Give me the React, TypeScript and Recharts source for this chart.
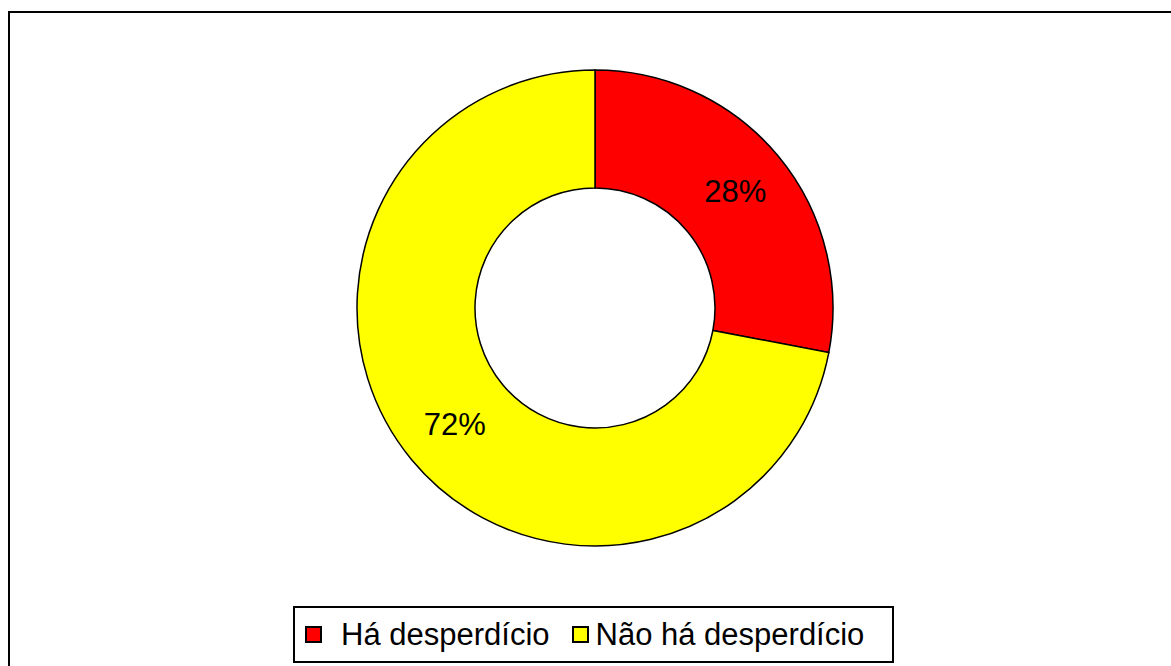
import { PieChart, Pie, Cell, Legend } from 'recharts';

// survey answers (percent)
const categories = ['Há desperdício', 'Não há desperdício'];
const shares = [28, 72];
const colors = ['#FF0000', '#FFFF00'];

const data = categories.map((name, i) => ({ name, value: shares[i] }));

const FONT = "Arial, 'Liberation Sans', sans-serif";
const RAD = Math.PI / 180;

function renderLabel(props: any) {
  const { cx, cy, midAngle, innerRadius, outerRadius, value } = props;
  const r = (innerRadius + outerRadius) / 2 + 3;
  const x = cx + r * Math.cos(-midAngle * RAD);
  const y = cy + r * Math.sin(-midAngle * RAD);
  return (
    <text
      x={x}
      y={y}
      textAnchor="middle"
      dominantBaseline="central"
      fill="#000"
      fontSize={31}
      fontFamily={FONT}
    >
      {value}%
    </text>
  );
}

function renderLegend(props: any) {
  const items = props.payload || [];
  return (
    <div
      style={{
        boxSizing: 'border-box',
        width: 601,
        height: 57,
        border: '2px solid #000',
        background: '#fff',
        display: 'flex',
        alignItems: 'center',
        fontFamily: FONT,
        fontSize: 31,
        color: '#000',
      }}
    >
      {items.map((it: any, i: number) => (
        <div key={it.value} style={{ display: 'flex', alignItems: 'center', marginLeft: i === 0 ? 10 : 22 }}>
          <span
            style={{
              boxSizing: 'border-box',
              display: 'inline-block',
              width: 17,
              height: 17,
              background: colors[i],
              border: '2px solid #000',
              marginRight: i === 0 ? 19 : 7,
            }}
          />
          <span style={{ lineHeight: '31px' }}>{it.value}</span>
        </div>
      ))}
    </div>
  );
}

export default function App() {
  return (
    <div
      style={{
        position: 'fixed',
        left: 0,
        top: 0,
        width: 1171,
        height: 666,
        overflow: 'hidden',
        background: '#fff',
      }}
    >
      <div
        style={{
          position: 'absolute',
          left: 8,
          top: 11,
          width: 1250,
          height: 750,
          border: '2px solid #000',
        }}
      />
      <div style={{ position: 'absolute', left: 0, top: 0 }}>
        <PieChart width={1171} height={666} margin={{ top: 0, right: 0, bottom: 0, left: 0 }}>
          <Pie
            data={data}
            dataKey="value"
            nameKey="name"
            cx={595}
            cy={308}
            innerRadius={120}
            outerRadius={238}
            startAngle={90}
            endAngle={-270}
            stroke="#000"
            strokeWidth={1.5}
            label={renderLabel}
            labelLine={false}
            isAnimationActive={false}
          >
            {data.map((d, i) => (
              <Cell key={d.name} fill={colors[i]} />
            ))}
          </Pie>
          <Legend
            content={renderLegend}
            wrapperStyle={{ left: 293, top: 606, width: 601, height: 57, bottom: 'auto' }}
          />
        </PieChart>
      </div>
    </div>
  );
}
